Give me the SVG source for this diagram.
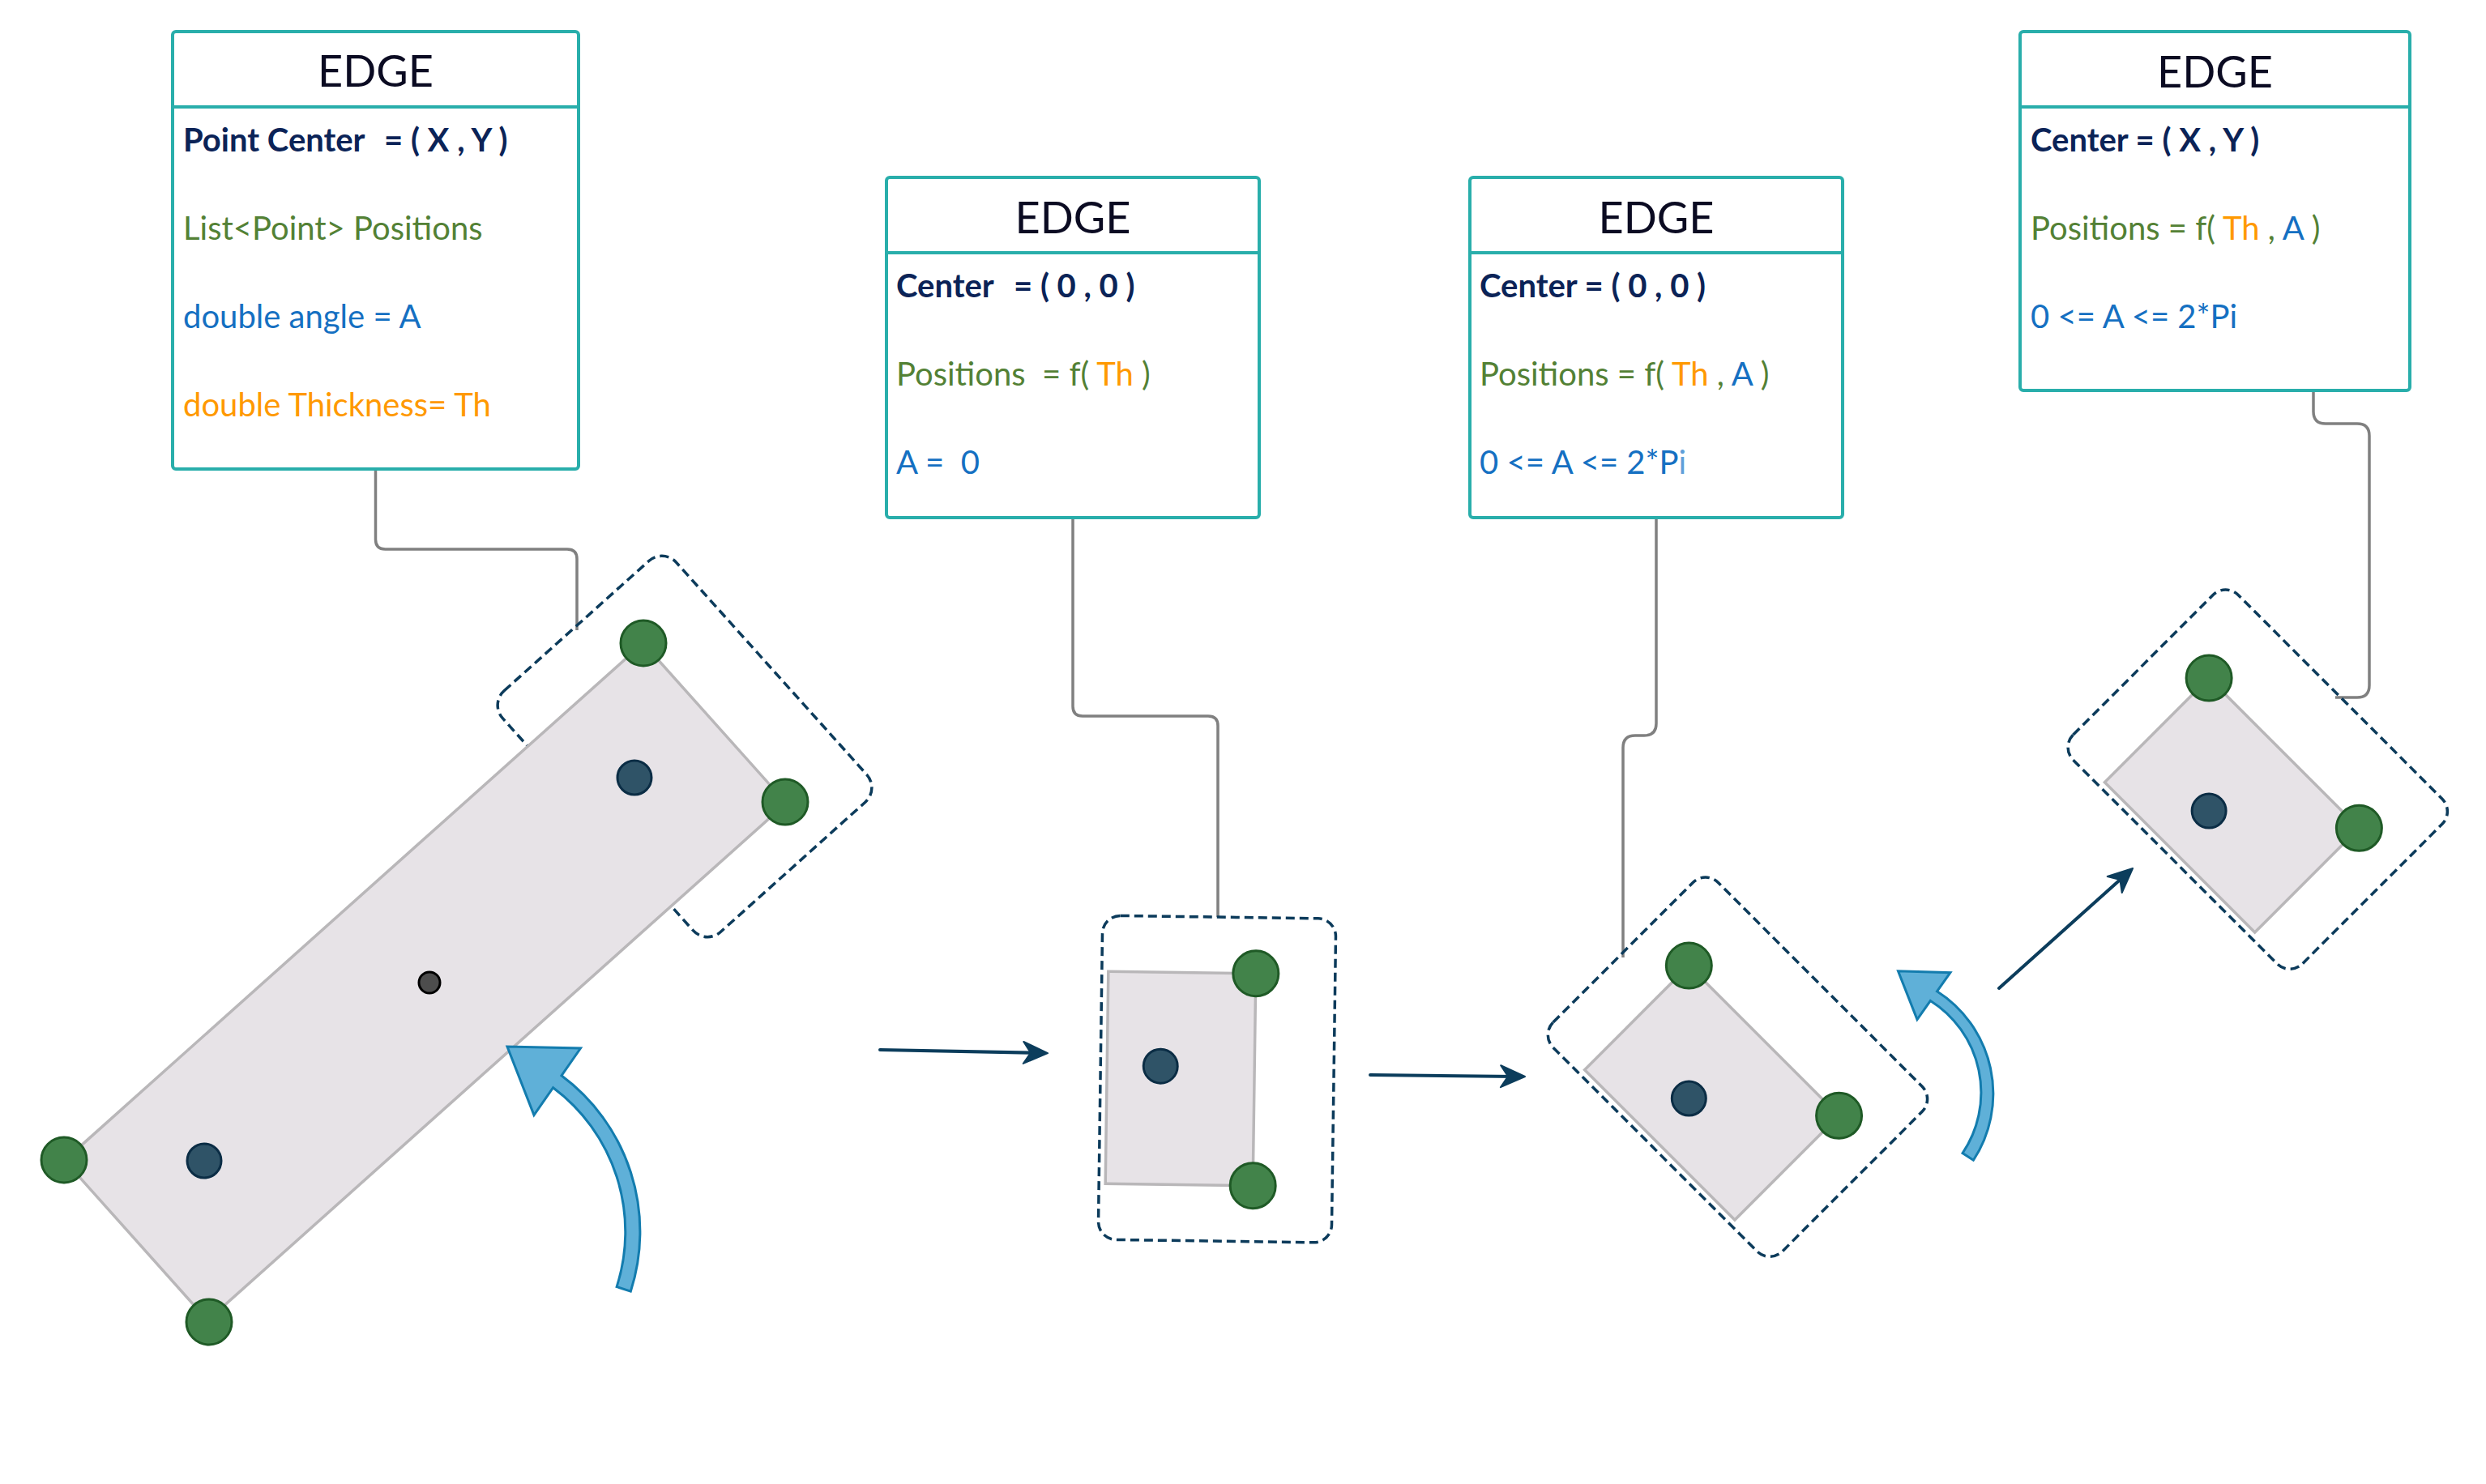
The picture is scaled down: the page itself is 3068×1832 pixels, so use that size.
<svg xmlns="http://www.w3.org/2000/svg" width="3068" height="1832" viewBox="0 0 3068 1832">
<style>
.box{fill:#fff;stroke:#29aeab;stroke-width:4}
.sep{stroke:#29aeab;stroke-width:4}
.hdr{font-family:Lato,"Liberation Sans",sans-serif;font-size:54px;fill:#0b0b22;text-anchor:middle}
.t{font-family:Lato,"Liberation Sans",sans-serif;font-size:40px;white-space:pre}
.nv{fill:#0b2357;font-weight:700}
.gr{fill:#538135}
.bl{fill:#1570c2}
.or{fill:#ff9900}
.lb{fill:#5f9fd9}
.conn{fill:none;stroke:#808080;stroke-width:3.5}
.dash{fill:none;stroke:#0c3b5b;stroke-width:3.5;stroke-dasharray:11 6}
.plate{fill:#e7e3e7;stroke:#b9b7b9;stroke-width:3.5}
.pt{fill:#42834a;stroke:#1f5a26;stroke-width:3}
.pos{fill:#2f5367;stroke:#0b2d45;stroke-width:3}
.ctr{fill:#4d4d4d;stroke:#000;stroke-width:3}
.arr{fill:none;stroke:#0c3d5c;stroke-width:4;stroke-linecap:round}
.rot{fill:#5fb0d8;stroke:#137cae;stroke-width:3;stroke-linejoin:miter}
</style>
<defs>
<marker id="ah" markerUnits="userSpaceOnUse" viewBox="-20 -16 34 32" markerWidth="34" markerHeight="32" refX="0" refY="0" orient="auto">
<path d="M12,0 L-18,-13.5 L-9,0 L-18,13.5 Z" fill="#0c3d5c" stroke="#0c3d5c" stroke-width="2" stroke-linejoin="round"/>
</marker>
<g id="plateLocal">
<rect class="dash" x="-99" y="-200" width="288" height="400" rx="22"/>
<rect class="plate" x="-91" y="-131" width="182" height="262"/>
<circle class="pt" cx="91" cy="-131" r="28"/>
<circle class="pt" cx="91" cy="131" r="28"/>
<circle class="pos" cx="-25" cy="-15" r="21"/>
</g>
</defs>
<rect width="3068" height="1832" fill="#fff"/>

<g id="connectors">
<path class="conn" d="M463.5 579 V666 Q463.5 678 475.5 678 H700 Q712 678 712 690 V778"/>
<path class="conn" d="M1324 639 V872 Q1324 884 1336 884 H1491 Q1503 884 1503 896 V1132"/>
<path class="conn" d="M2044 639 V893 Q2044 908 2029 908 H2018 Q2003 908 2003 923 V1182"/>
<path class="conn" d="M2855 482 V508 Q2855 523 2870 523 H2909 Q2924 523 2924 538 V846 Q2924 861 2909 861 H2882"/>
<path class="arr" d="M1086 1296 L1281 1299.8" marker-end="url(#ah)"/>
<path class="arr" d="M1691 1327 L1870 1328.9" marker-end="url(#ah)"/>
<path class="arr" d="M2467 1220 L2623.1 1080" marker-end="url(#ah)"/>
</g>

<g id="box1">
<rect class="box" x="213" y="39" width="501" height="540" rx="4"/>
<line class="sep" x1="213" y1="132" x2="714" y2="132"/>
<text class="hdr" x="463.5" y="107">EDGE</text>
<text class="t nv" x="226" y="187">Point Center<tspan x="474">= ( X , Y )</tspan></text>
<text class="t gr" x="226" y="296">List&lt;Point&gt; Positions</text>
<text class="t bl" x="226" y="405">double angle = A</text>
<text class="t or" x="226" y="514">double Thickness= Th</text>
</g>

<g id="box2">
<rect class="box" x="1094" y="219" width="460" height="420" rx="4"/>
<line class="sep" x1="1094" y1="312" x2="1554" y2="312"/>
<text class="hdr" x="1324" y="288">EDGE</text>
<text class="t nv" x="1106" y="367">Center<tspan x="1251">= ( 0 , 0 )</tspan></text>
<text class="t gr" x="1106" y="476">Positions  = f( <tspan class="or">Th</tspan> )</text>
<text class="t bl" x="1106" y="585">A =  0</text>
</g>

<g id="box3">
<rect class="box" x="1814" y="219" width="460" height="420" rx="4"/>
<line class="sep" x1="1814" y1="312" x2="2274" y2="312"/>
<text class="hdr" x="2044" y="288">EDGE</text>
<text class="t nv" x="1826" y="367">Center = ( 0 , 0 )</text>
<text class="t gr" x="1826" y="476">Positions = f( <tspan class="or">Th</tspan> , <tspan class="bl">A</tspan> )</text>
<text class="t bl" x="1826" y="585">0 &lt;= A &lt;= 2*P<tspan class="lb">i</tspan></text>
</g>

<g id="box4">
<rect class="box" x="2493" y="39" width="481" height="443" rx="4"/>
<line class="sep" x1="2493" y1="132" x2="2974" y2="132"/>
<text class="hdr" x="2733.5" y="108">EDGE</text>
<text class="t nv" x="2506" y="187">Center = ( X , Y )</text>
<text class="t gr" x="2506" y="296">Positions = f( <tspan class="or">Th</tspan> , <tspan class="bl">A</tspan> )</text>
<text class="t bl" x="2506" y="405">0 &lt;= A &lt;= 2*Pi</text>
</g>

<g id="shape1">
<rect class="dash" x="-144" y="-200" width="288" height="400" rx="24" transform="translate(845 921.5) rotate(-41.9)"/>
<rect class="plate" x="-479" y="-132.5" width="958" height="265" transform="translate(525 1212) rotate(-41.8)"/>
<circle class="pt" cx="794" cy="794" r="28"/>
<circle class="pt" cx="969" cy="990" r="28"/>
<circle class="pt" cx="258" cy="1632" r="28"/>
<circle class="pt" cx="79" cy="1432" r="28"/>
<circle class="pos" cx="783" cy="960" r="21"/>
<circle class="pos" cx="252" cy="1433" r="21"/>
<circle class="ctr" cx="530" cy="1213" r="13"/>
</g>

<g id="shape2">
<use href="#plateLocal" transform="translate(1457 1331.5) rotate(0.8)"/>
</g>

<g id="shape3">
<use href="#plateLocal" transform="translate(2112.6 1349) rotate(-45)"/>
</g>

<g id="shape4">
<use href="#plateLocal" transform="translate(2754.4 994) rotate(-45)"/>
</g>

<g id="rotation1">
<path class="rot" d="M761.1 1588.6 A222 222 0 0 0 682.6 1342.7 L659 1376.5 L626 1292 L716.5 1294 L692.9 1327.8 A240 240 0 0 1 778.3 1594.2 Z"/>
</g>
<g id="rotation2">
<path class="rot" d="M2422 1423.6 A134 134 0 0 0 2382.4 1235.4 L2366 1258.5 L2342.5 1198.8 L2406.9 1200.7 L2390.5 1223.8 A150 150 0 0 1 2435.4 1432.3 Z"/>
</g>
</svg>
